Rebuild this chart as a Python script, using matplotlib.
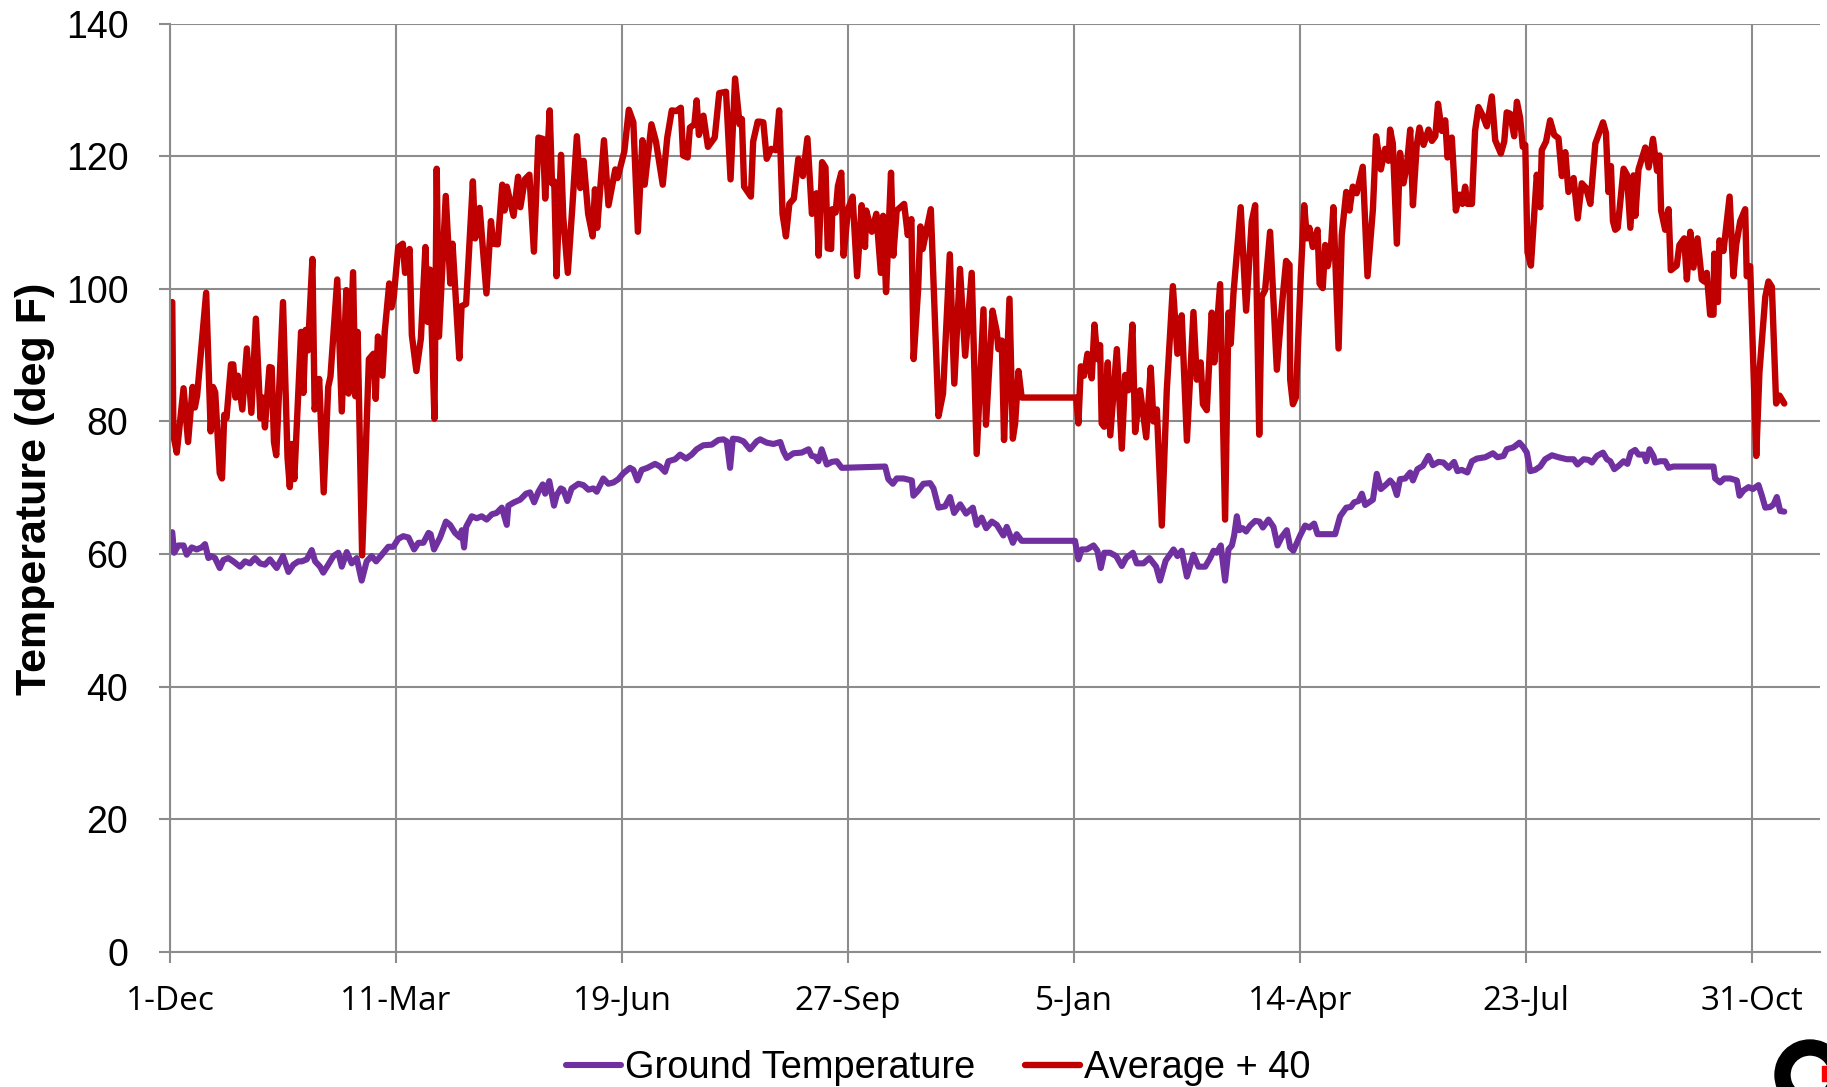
import pandas as pd
import matplotlib.pyplot as plt
from matplotlib.patches import Wedge, Rectangle
from matplotlib.transforms import IdentityTransform

# 数据：天数(从2010-12-01起) 和温度
start = pd.Timestamp('2010-12-01')

avg_days = [1, 1.5, 3, 6, 8, 10, 11, 12, 16, 18, 19, 20, 22, 23, 24, 25, 27, 28, 29, 30,
            32, 34, 36, 38, 40, 41, 42, 44, 45, 46, 47, 50, 52, 53, 54, 55, 58, 59, 60, 61,
            63, 64, 66, 68, 70, 71, 74, 76, 78, 79, 81, 82, 83, 85, 88, 90, 91, 92, 94, 95,
            97, 98, 99, 101, 103, 104, 106, 107, 109, 111, 113, 114, 115, 117, 118, 119, 122, 124, 125, 128,
            129, 131, 134, 135, 137, 140, 142, 143, 145, 147, 148, 149, 152, 154, 155, 157, 159, 161, 163, 165,
            166, 168, 169, 170, 171, 173, 174, 176, 178, 180, 181.5, 183, 185, 187, 188, 189, 192, 194, 197, 198,
            201, 203, 205, 207, 209, 210, 213, 215, 218, 220, 222, 224, 226, 227, 229, 230, 232, 233, 234, 236,
            238, 241, 243, 246, 248, 250, 252, 253, 254, 257, 258, 260, 261, 262.5, 264, 266, 268, 269.5, 271, 272.5,
            274, 276, 278, 280, 282, 284, 286, 287, 288.5, 290, 291, 292.5, 293, 294.5, 295.5, 297, 298, 300, 302, 304,
            306, 307.5, 308, 310.5, 312.5, 314.5, 315.5, 316.8, 319, 320, 321.5, 324.8, 326.4, 328, 329, 331, 332, 333, 336.6, 340,
            342, 345, 347, 349.5, 351.8, 354.7, 356.9, 359.9, 361, 363.9, 365.8, 366.5, 368, 369, 371.4, 372.9, 373.9, 375.4, 376.8, 400.9,
            401.9, 403, 404.4, 405.9, 407.8, 409, 410.3, 411.5, 412.2, 413.3, 414.9, 416, 418.9, 421.1, 422.6, 424, 425.8, 427, 429.2, 431.9,
            433.9, 435.1, 436.6, 438.8, 441, 443.7, 445.7, 447.6, 449.9, 452.8, 454.3, 456, 457, 458.7, 460.9, 462, 464.6, 466.8, 468.3, 469.3,
            470.5, 473.7, 476.1, 478.6, 480.1, 481.9, 483, 484.5, 486.7, 489.7, 492, 493.8, 495.3, 495.6, 496.8, 498.1, 500.3, 501.8, 503, 504.1,
            505.6, 507.7, 508.6, 510, 511.1, 512.2, 513.6, 514.7, 517, 518.4, 520.4, 521.8, 523.3, 525, 527.7, 529.8, 532.2, 533.6, 535.7, 537.6,
            539.1, 539.8, 541, 542.8, 544.2, 545.7, 547.2, 548.7, 549.9, 551.6, 552.8, 554.6, 556.8, 558.3, 559.8, 561, 562.7, 564.2, 565.2, 567.1,
            568.9, 570.5, 571.8, 573, 574, 576, 577.4, 578.9, 580.8, 582.6, 584.8, 586.3, 588.8, 590.3, 591.4, 592.9, 594.7, 595.9, 597.3, 598.5,
            599.6, 600.6, 602.1, 604.7, 606.2, 606.9, 608.8, 610.6, 612.4, 614.3, 615.8, 617.3, 618.7, 621, 622.8, 624.6, 626.5, 628.4, 630.6, 632,
            634, 635.3, 636.4, 637.5, 638.4, 639.4, 640.5, 643.1, 644.6, 646.1, 647.5, 648.3, 649.7, 652.7, 654.2, 656.1, 657.9, 659, 659.7, 661.5,
            663, 664, 666.6, 667.8, 669.9, 671.1, 672.6, 674, 675.8, 677.7, 678.8, 679.9, 681.4, 682.9, 683.2, 684.8, 685.5, 687.3, 690, 691.7,
            692.9, 694.7, 696.9, 697.6, 699.1, 701.8, 703.2, 705.8, 707.2, 708.7, 710.6, 712.1, 714.2]
avg_vals = [98.0, 77.9, 75.3, 85.0, 76.9, 85.2, 82.1, 83.9, 99.4, 78.5, 85.2, 84.4, 72.2, 71.4, 81.0, 80.5, 88.6, 88.6, 83.6, 86.9,
            81.8, 91.0, 81.3, 95.5, 80.5, 83.6, 79.1, 88.2, 88.1, 76.9, 74.9, 98.0, 74.5, 70.1, 76.6, 71.3, 93.5, 84.3, 93.8, 90.7,
            104.5, 81.8, 86.4, 69.3, 85.2, 86.8, 101.4, 81.5, 99.8, 84.2, 102.5, 83.8, 93.5, 59.8, 89.4, 90.2, 83.4, 92.8, 86.9, 93.5,
            100.8, 97.2, 98.8, 106.3, 106.8, 102.4, 106.0, 93.0, 87.6, 92.5, 106.3, 95.0, 102.9, 80.4, 118.1, 92.8, 114.0, 100.8, 106.8, 89.5,
            97.4, 97.7, 116.2, 107.6, 112.2, 99.3, 110.2, 106.8, 106.7, 115.7, 111.8, 115.4, 111.0, 116.9, 112.3, 116.5, 117.2, 105.6, 122.8, 122.6,
            113.6, 126.9, 115.9, 116.2, 101.9, 120.2, 110.7, 102.4, 112.3, 123.0, 115.2, 119.3, 111.3, 107.9, 115.0, 109.2, 122.4, 112.6, 118.0, 116.7,
            120.7, 127.0, 125.1, 108.6, 122.4, 115.7, 124.8, 122.2, 115.7, 122.8, 126.9, 126.8, 127.3, 120.1, 119.8, 124.3, 124.8, 128.4, 123.2, 126.1,
            121.4, 122.8, 129.5, 129.7, 116.5, 131.7, 124.8, 125.6, 115.4, 113.9, 122.2, 125.2, 125.2, 125.1, 119.6, 121.1, 120.9, 126.9, 111.3, 107.9,
            112.8, 113.6, 119.6, 117.0, 122.7, 111.3, 114.4, 105.0, 119.1, 118.3, 106.1, 106.0, 112.0, 111.5, 115.5, 117.5, 105.0, 112.0, 113.9, 101.9,
            112.6, 106.3, 111.8, 108.6, 111.3, 102.4, 111.0, 99.5, 117.5, 105.0, 111.8, 112.8, 108.1, 110.5, 89.4, 100.0, 109.4, 106.0, 112.0, 80.8,
            84.2, 105.2, 85.7, 103.0, 89.9, 102.4, 75.1, 96.9, 79.5, 96.7, 93.5, 90.9, 92.2, 77.2, 98.5, 77.4, 79.7, 87.6, 83.6, 83.6,
            79.7, 88.3, 86.9, 90.2, 86.5, 94.6, 89.4, 91.5, 79.7, 79.2, 88.9, 77.9, 90.9, 75.9, 87.0, 84.7, 94.6, 78.4, 84.7, 77.6,
            88.1, 80.0, 81.8, 64.3, 84.7, 100.4, 90.2, 96.0, 77.1, 96.5, 86.3, 88.9, 82.6, 81.7, 96.4, 88.9, 100.7, 65.2, 96.4, 91.7,
            99.3, 112.3, 96.7, 110.2, 112.6, 78.0, 98.8, 99.8, 108.6, 87.8, 97.7, 104.2, 103.6, 86.3, 82.6, 83.6, 102.1, 112.6, 107.6, 109.2,
            106.3, 108.9, 100.8, 100.1, 106.6, 103.4, 106.0, 112.3, 91.0, 108.1, 114.6, 111.8, 115.4, 114.4, 118.4, 101.9, 112.0, 123.0, 118.0, 121.1,
            119.3, 124.0, 121.9, 106.8, 120.5, 115.9, 118.5, 124.0, 112.6, 121.7, 124.3, 121.7, 124.0, 122.3, 123.0, 127.9, 123.8, 125.4, 119.8, 122.8,
            111.8, 114.2, 112.8, 115.4, 112.8, 112.8, 123.8, 127.4, 126.1, 124.5, 129.0, 122.4, 120.4, 122.2, 126.6, 126.4, 123.0, 128.2, 125.8, 121.4,
            121.7, 105.5, 103.5, 117.2, 112.3, 120.9, 122.2, 125.4, 123.2, 122.7, 117.0, 120.6, 114.6, 116.7, 110.6, 115.9, 115.2, 112.8, 121.9, 123.2,
            125.1, 123.5, 114.6, 118.5, 110.2, 108.9, 109.2, 118.1, 117.2, 109.2, 117.1, 111.0, 118.0, 121.3, 118.3, 122.6, 117.8, 120.1, 111.8, 108.9,
            112.0, 102.8, 103.5, 106.6, 107.6, 101.4, 108.6, 103.2, 107.6, 101.4, 101.1, 102.4, 96.1, 96.1, 105.3, 98.0, 107.3, 105.7, 113.9, 101.9,
            106.6, 110.2, 112.0, 101.9, 103.4, 74.8, 87.4, 98.8, 101.1, 100.3, 82.7, 83.9, 82.7]

ground_days = [1, 1.8, 3.7, 6, 7.4, 9.6, 11.8, 14, 15.5, 17, 18.4, 19.9, 22, 23.6, 25.8, 28, 31, 33.2, 35.4, 37.6,
               39.8, 42, 44.2, 47.2, 50, 52.4, 54.6, 56.8, 58.3, 60.5, 62.7, 64.2, 66.4, 67.8, 70, 72.3, 74.5, 76, 78.2, 80.4,
               82.6, 84.8, 87, 89.2, 91.2, 93.7, 96.6, 98.8, 101, 103.2, 105.5, 108, 109.9, 112.1, 114.4, 115.3, 116.8, 119.5, 122.1, 123.9,
               126.1, 128.3, 129.1, 130.1, 131, 133.5, 135.7, 137.9, 140.1, 142.4, 144.5, 146.8, 149, 149.7, 152.2, 154.9, 157.5, 159.3, 161.1, 163,
               164.9, 166, 167.8, 169.9, 171.1, 172.9, 174, 175.8, 177.7, 180.7, 182.9, 185.1, 187.3, 188.8, 191.7, 193.9, 196.2, 198.4, 200.6, 203.5,
               205, 206.8, 208.7, 211.2, 214.6, 216.8, 219, 220.5, 223.5, 225.7, 228.3, 230.8, 233, 235.9, 239.7, 242.6, 244.8, 246.3, 247.8, 249,
               251.5, 253.7, 256.6, 259.6, 261.1, 264, 267, 270, 271.4, 272.9, 275.8, 279.5, 282.5, 283.9, 285.4, 286.9, 288.3, 290.6, 292.8, 295,
               297.2, 316.4, 317.8, 319.8, 321.5, 324.5, 328.2, 328.9, 331.1, 333.3, 336.3, 337.8, 340, 342.9, 345.1, 346.9, 349.6, 352.2, 355.2, 356.9,
               359.1, 361.1, 363.6, 365.8, 368.7, 370.2, 371.7, 372.9, 374.6, 376.8, 400.4, 401.9, 403.4, 405.6, 408.6, 410.3, 411.8, 413.3, 415.9, 418.6,
               421.1, 423, 426, 427.7, 430.7, 433.3, 436.3, 438, 440.5, 444, 445.7, 447.6, 449.9, 452.8, 455, 458, 460.2, 461.7, 463.1, 464.9,
               466.8, 468.3, 469.8, 470.8, 472, 473.1, 474.6, 476.1, 477.9, 480.1, 482, 483.5, 486, 488.2, 490, 491.9, 494.1, 495.6, 497, 500,
               502.2, 504.1, 506.2, 507.7, 515.5, 517.7, 520.4, 522.4, 523.9, 525.8, 527.3, 528.8, 532.2, 533.9, 535.7, 538.1, 539.8, 541.3, 542.8, 544.2,
               546.5, 548.7, 549.9, 551.9, 554.3, 556.8, 558.7, 561.2, 563.4, 565.7, 568.1, 569.6, 571.5, 574, 576, 578.2, 581.9, 585.3, 587.3, 590,
               591.4, 594.4, 597, 598.8, 600.3, 601.8, 604, 606.2, 608.4, 611.4, 614.3, 618, 621, 622.7, 625.4, 627.6, 629.1, 631.3, 634, 635.7,
               637.2, 639, 640.9, 643.1, 644.8, 646.3, 648.2, 649.7, 652.2, 653.1, 654.6, 656.3, 657.1, 659.3, 661.5, 663, 665.2, 682.9, 683.6, 685.8,
               687.6, 690.3, 693.2, 694.4, 696.2, 698.4, 700.3, 702.8, 704.3, 705.8, 708, 709.5, 710.9, 712.4, 714.2]
ground_vals = [63.3, 60.2, 61.3, 61.3, 59.9, 61.0, 60.7, 61.0, 61.5, 59.4, 59.7, 59.4, 57.9, 59.1, 59.4, 58.9, 58.1, 58.9, 58.6, 59.4,
               58.6, 58.4, 59.2, 57.9, 59.7, 57.3, 58.4, 58.9, 58.9, 59.2, 60.6, 58.9, 58.1, 57.2, 58.4, 59.7, 60.2, 58.1, 60.3, 58.6,
               59.4, 56.0, 58.9, 59.7, 58.9, 59.9, 61.1, 61.1, 62.3, 62.7, 62.5, 60.7, 61.7, 61.7, 63.2, 63.0, 60.7, 62.5, 64.9, 64.4,
               63.2, 62.5, 63.6, 61.0, 64.1, 65.7, 65.4, 65.7, 65.2, 66.0, 66.2, 67.0, 64.4, 67.3, 67.8, 68.2, 69.1, 69.3, 67.8, 69.4,
               70.5, 69.1, 71.0, 67.3, 68.9, 69.9, 69.7, 68.0, 69.9, 70.6, 70.4, 69.7, 69.9, 69.4, 71.4, 70.6, 70.8, 71.3, 72.2, 73.0,
               72.7, 71.1, 72.7, 73.0, 73.6, 73.2, 72.4, 74.0, 74.3, 75.0, 74.4, 75.0, 75.8, 76.4, 76.5, 77.2, 77.3, 77.0, 73.0, 77.4,
               77.3, 77.0, 75.8, 77.0, 77.3, 76.8, 76.6, 76.9, 75.5, 74.5, 75.2, 75.3, 75.8, 74.8, 74.7, 74.0, 75.8, 73.5, 73.9, 74.0,
               73.0, 73.2, 71.3, 70.6, 71.4, 71.4, 71.1, 68.8, 69.6, 70.6, 70.7, 69.9, 67.0, 67.2, 68.6, 66.2, 67.5, 66.1, 67.0, 64.4,
               65.5, 63.9, 64.9, 64.4, 62.8, 64.1, 62.8, 61.7, 63.0, 62.0, 62.0, 59.2, 60.7, 60.7, 61.3, 60.5, 57.9, 60.2, 60.2, 59.7,
               58.2, 59.4, 60.2, 58.6, 58.6, 59.4, 58.1, 56.0, 59.0, 60.7, 59.7, 60.5, 56.6, 59.9, 58.1, 58.1, 59.4, 60.5, 60.2, 61.3,
               56.0, 60.7, 61.3, 62.8, 65.7, 63.6, 63.9, 63.4, 64.3, 65.0, 64.9, 64.0, 65.2, 64.1, 61.3, 62.6, 63.6, 61.0, 60.5, 62.8,
               64.3, 64.0, 64.6, 63.0, 63.0, 65.7, 67.0, 67.1, 67.8, 68.0, 69.1, 67.4, 68.2, 72.1, 69.8, 70.5, 71.1, 70.5, 68.9, 71.3,
               71.4, 72.3, 71.1, 72.8, 73.3, 74.8, 73.4, 73.9, 73.8, 73.0, 73.9, 72.5, 72.7, 72.3, 74.0, 74.4, 74.6, 75.2, 74.6, 74.8,
               75.8, 76.1, 76.8, 76.1, 75.3, 72.5, 72.7, 73.2, 74.3, 74.9, 74.6, 74.3, 74.3, 73.5, 74.3, 74.2, 73.8, 74.8, 75.3, 74.3,
               74.0, 72.8, 73.3, 74.0, 73.6, 75.3, 75.7, 75.0, 75.0, 74.0, 75.8, 74.8, 73.8, 74.0, 74.0, 73.0, 73.2, 73.2, 71.4, 70.8,
               71.4, 71.4, 71.1, 68.8, 69.6, 70.1, 69.8, 70.4, 68.8, 67.0, 67.1, 67.5, 68.6, 66.5, 66.4]

tick_labels = ['1-Dec', '11-Mar', '19-Jun', '27-Sep', '5-Jan', '14-Apr', '23-Jul', '31-Oct']
y_ticks = [0, 20, 40, 60, 80, 100, 120, 140]

avg_dates = start + pd.to_timedelta(avg_days, unit='D')
ground_dates = start + pd.to_timedelta(ground_days, unit='D')
tick_dates = pd.date_range(start, periods=len(tick_labels), freq='100D')

fig = plt.figure(figsize=(18.27, 10.87), dpi=100)
ax = fig.add_axes([170 / 1827, 1 - 952 / 1087, 1650 / 1827, 928.5 / 1087])

l1, = ax.plot(ground_dates, ground_vals, color='#7030A0', lw=4.4,
              solid_joinstyle='round', solid_capstyle='round', label='Ground Temperature')
l2, = ax.plot(avg_dates, avg_vals, color='#C00000', lw=4.6,
              solid_joinstyle='round', solid_capstyle='round', label='Average + 40')

ax.set_xlim(start, start + pd.Timedelta(days=730))
ax.set_ylim(0, 140)
ax.set_xticks(tick_dates)
ax.set_xticklabels(tick_labels, fontfamily='Open Sans', fontsize=24)
ax.set_yticks(y_ticks)
ax.set_yticklabels([str(v) for v in y_ticks], fontfamily='Liberation Sans', fontsize=27)

# 网格和坐标轴
ax.set_axisbelow(True)
ax.grid(True, color='#8c8c8c', lw=1.5)
for s in ['top', 'right']:
    ax.spines[s].set_visible(False)
for s in ['left', 'bottom']:
    ax.spines[s].set_color('#8c8c8c')
    ax.spines[s].set_linewidth(1.5)
ax.tick_params(axis='both', direction='out', length=8, width=1.5, color='#8c8c8c')
ax.tick_params(axis='y', pad=22)
ax.tick_params(axis='x', pad=16)

fig.text(35 / 1827, 1 - 489 / 1087, 'Temperature (deg F)', rotation=90, ha='center', va='center',
         fontfamily='Liberation Sans', fontweight='bold', fontsize=31)

fig.legend(handles=[l1, l2], loc='center', bbox_to_anchor=(938 / 1827, 1 - 1068 / 1087), ncol=2,
           frameon=False, prop={'family': 'Liberation Sans', 'size': 27.4},
           handlelength=1.45, handletextpad=0.1, columnspacing=1.3, borderpad=0)

# 右下角的标志(被裁掉一部分)
fig.add_artist(Wedge((1810, 12), 35, 0, 360, width=15, color='black', transform=IdentityTransform()))
fig.add_artist(Rectangle((1822, 6), 6, 15, color='red', transform=IdentityTransform()))

plt.savefig('out.png', dpi=100)
